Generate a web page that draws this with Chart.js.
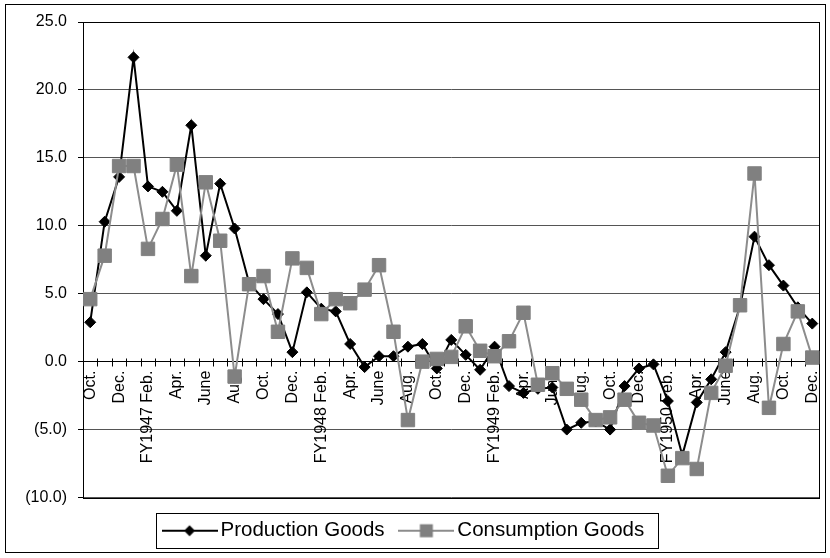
<!DOCTYPE html>
<html>
<head>
<meta charset="utf-8">
<script src="https://cdn.jsdelivr.net/npm/chart.js@4"></script>
<style>
  body { margin: 0; background: #fff; }
  .wrap { width: 830px; height: 558px; position: relative; }
</style>
</head>
<body>
<div class="wrap"><canvas id="myChart"></canvas></div>
<script>
'use strict';

// Months from Oct. 1946 to Dec. 1950 (fiscal year shown on Feb.)
let months = [
  'Oct.', 'Nov.', 'Dec.', 'Jan.', 'FY1947 Feb.', 'Mar.', 'Apr.', 'May', 'June', 'July', 'Aug.', 'Sep.',
  'Oct.', 'Nov.', 'Dec.', 'Jan.', 'FY1948 Feb.', 'Mar.', 'Apr.', 'May', 'June', 'July', 'Aug.', 'Sep.',
  'Oct.', 'Nov.', 'Dec.', 'Jan.', 'FY1949 Feb.', 'Mar.', 'Apr.', 'May', 'June', 'July', 'Aug.', 'Sep.',
  'Oct.', 'Nov.', 'Dec.', 'Jan.', 'FY1950 Feb.', 'Mar.', 'Apr.', 'May', 'June', 'July', 'Aug.', 'Sep.',
  'Oct.', 'Nov.', 'Dec.'
];

let productionGoods = [
  2.9, 10.3, 13.6, 22.4, 12.9, 12.5, 11.1, 17.4, 7.8, 13.1, 9.8, 5.8,
  4.6, 3.5, 0.7, 5.1, 3.9, 3.7, 1.3, -0.4, 0.4, 0.4, 1.1, 1.3,
  -0.5, 1.6, 0.5, -0.6, 1.1, -1.8, -2.3, -2.0, -1.9, -5.0, -4.5, -4.4,
  -5.0, -1.8, -0.5, -0.2, -2.9, -6.9, -3.0, -1.3, 0.7, 4.1, 9.2, 7.1,
  5.6, 4.0, 2.8
];

let consumptionGoods = [
  4.6, 7.8, 14.4, 14.4, 8.3, 10.5, 14.5, 6.3, 13.2, 8.9, -1.1, 5.7,
  6.3, 2.2, 7.6, 6.9, 3.5, 4.6, 4.3, 5.3, 7.1, 2.2, -4.3, 0.0,
  0.2, 0.35, 2.6, 0.8, 0.4, 1.5, 3.6, -1.7, -0.85, -2.0, -2.8, -4.3,
  -4.1, -2.8, -4.5, -4.7, -8.4, -7.1, -7.9, -2.3, -0.3, 4.15, 13.85, -3.4,
  1.3, 3.7, 0.3
];

let yMin = -10;
let yMax = 25;
let yStep = 5;

Chart.defaults.font.family = '"Liberation Sans", Arial, sans-serif';
Chart.defaults.color = '#000';

// small canvas: line with marker in the middle, used as legend symbol
function legendSymbol(lineColor, lineWidth, drawMarker) {
  let c = document.createElement('canvas');
  c.width = 56;
  c.height = 20;
  let g = c.getContext('2d');
  g.strokeStyle = lineColor;
  g.lineWidth = lineWidth;
  g.beginPath();
  g.moveTo(0, 10);
  g.lineTo(56, 10);
  g.stroke();
  drawMarker(g);
  return c;
}

let prodSymbol = legendSymbol('#000', 2, function(g) {
  g.fillStyle = '#000';
  g.beginPath();
  g.moveTo(28, 4.5); g.lineTo(33.5, 10); g.lineTo(28, 15.5); g.lineTo(22.5, 10);
  g.closePath();
  g.fill();
});
let consSymbol = legendSymbol('#8c8c8c', 2, function(g) {
  g.fillStyle = '#808080';
  g.fillRect(21.5, 3.5, 13, 13);
});

// frame round the plot, crossing ticks on the zero axis, legend box, outer border
let decorations = {
  id: 'decorations',
  afterLayout(chart) {
    // nudge the legend a little left and down
    let lg = chart.legend;
    lg.left -= 5;
    lg.right -= 5;
    lg.top += 2;
    lg.bottom += 2;
  },
  beforeDatasetsDraw(chart) {
    let ctx = chart.ctx;
    let a = chart.chartArea;
    let xs = chart.scales.x;
    let y0 = Math.round(chart.scales.y.getPixelForValue(0)) + 0.5;
    ctx.save();
    ctx.strokeStyle = '#000';
    ctx.lineWidth = 1;
    ctx.strokeRect(Math.round(a.left) + 0.5, Math.round(a.top) + 0.5,
      Math.round(a.right - a.left) - 1, Math.round(a.bottom - a.top));
    ctx.beginPath();
    for (let i = 1; i < months.length; i++) {
      let px = Math.round((xs.getPixelForValue(i - 1) + xs.getPixelForValue(i)) / 2) + 0.5;
      ctx.moveTo(px, y0 - 4);
      ctx.lineTo(px, y0 + 4);
    }
    ctx.stroke();
    ctx.restore();
  },
  afterDraw(chart) {
    let ctx = chart.ctx;
    let lg = chart.legend;
    ctx.save();
    ctx.strokeStyle = '#000';
    ctx.lineWidth = 1;
    let boxes = lg.legendHitBoxes;
    if (boxes && boxes.length) {
      let first = boxes[0];
      let last = boxes[boxes.length - 1];
      let left = first.left - 13;
      let right = last.left + last.width + 14;
      let cy = first.top + first.height / 2;
      ctx.strokeRect(Math.round(left) + 0.5, Math.round(cy - 17.5) + 0.5, Math.round(right - left), 35);
    }
    ctx.strokeRect(5.5, 4.5, 820, 548);
    ctx.restore();
  }
};

const ctx = document.getElementById('myChart').getContext('2d');

let options = {
  type: 'line',
  data: {
    labels: months,
    datasets: [
      {
        label: 'Production Goods',
        data: productionGoods,
        borderColor: '#000',
        backgroundColor: '#000',
        borderWidth: 2,
        pointStyle: 'rectRot',
        pointRadius: 5.5,
        pointBorderWidth: 1,
        tension: 0,
        order: 1
      },
      {
        label: 'Consumption Goods',
        data: consumptionGoods,
        borderColor: '#8c8c8c',
        backgroundColor: '#808080',
        pointBorderColor: '#808080',
        borderWidth: 2,
        pointStyle: 'rect',
        pointRadius: 9.5,
        pointBorderWidth: 1,
        tension: 0,
        order: 0
      }
    ]
  },
  options: {
    responsive: true,
    maintainAspectRatio: false,
    animation: false,
    events: [],
    layout: { padding: { left: 0, right: 7, top: 22, bottom: 9 } },
    scales: {
      x: {
        type: 'category',
        offset: true,
        position: { y: 0 },
        border: { color: '#000', width: 1 },
        grid: { display: false, drawTicks: false },
        ticks: {
          autoSkip: false,
          minRotation: 90,
          maxRotation: 90,
          padding: 9,
          font: { size: 16 },
          callback: function(value, index) {
            return index % 2 === 0 ? months[index] : '';
          }
        },
        afterFit: function(scale) {
          scale.height = 9;
          scale.paddingLeft = 0;
          scale.paddingRight = 0;
        }
      },
      y: {
        min: yMin,
        max: yMax,
        border: { color: '#000', width: 1 },
        grid: { color: '#555', tickColor: '#000', tickLength: 5 },
        ticks: {
          stepSize: yStep,
          padding: 11,
          font: { size: 16 },
          callback: function(v) {
            return v < 0 ? '(' + Math.abs(v).toFixed(1) + ')' : v.toFixed(1);
          }
        },
        afterFit: function(scale) { scale.width = 83; }
      }
    },
    plugins: {
      tooltip: { enabled: false },
      legend: {
        position: 'bottom',
        labels: {
          usePointStyle: true,
          pointStyleWidth: 41.5,
          padding: 21,
          font: { size: 20.5 },
          color: '#000',
          sort: function(a, b) { return a.datasetIndex - b.datasetIndex; },
          generateLabels: function(chart) {
            let items = Chart.defaults.plugins.legend.labels.generateLabels(chart);
            items.forEach(function(item) {
              item.pointStyle = item.datasetIndex === 0 ? prodSymbol : consSymbol;
            });
            return items;
          }
        }
      }
    }
  },
  plugins: [decorations]
};

const myChart = new Chart(ctx, options);
</script>
</body>
</html>
